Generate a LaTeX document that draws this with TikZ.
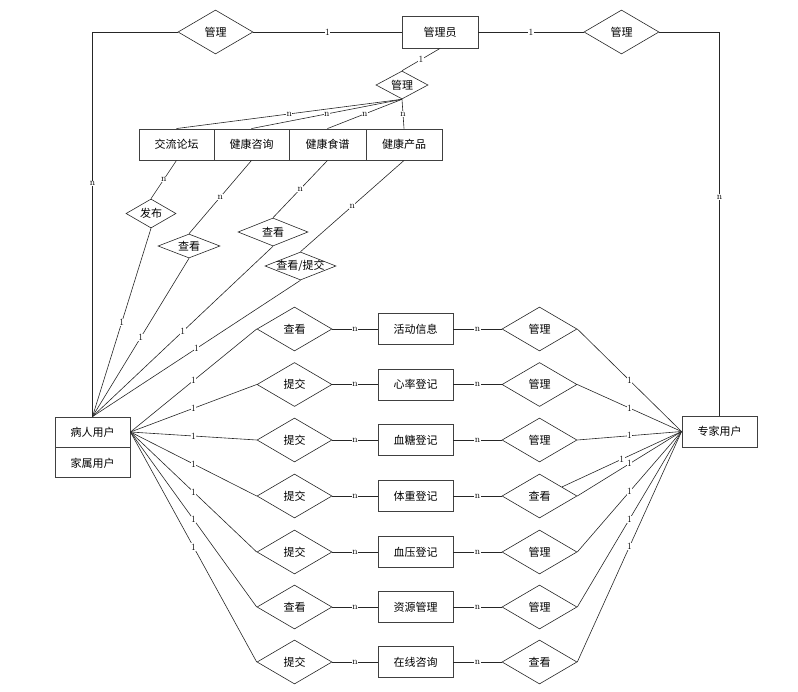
\documentclass[tikz,border=0pt]{standalone}
\usepackage{fontspec}
\newfontfamily\cjk{Noto Sans CJK SC}
\usetikzlibrary{shapes.geometric}
\newcommand\dtxt[1]{\makebox[0pt]{#1}}
\begin{document}
\begin{tikzpicture}[x=1pt,y=-1pt,
  ent/.style={draw=black!75, line width=0.9pt, minimum width=75pt, minimum height=31pt, inner sep=0pt, font=\cjk\fontsize{11}{12}\selectfont},
  rel/.style 2 args={diamond, draw=black!85, line width=0.6pt, minimum width=#1pt, minimum height=#2pt, inner sep=0pt, font=\cjk\fontsize{11}{12}\selectfont},
  ln/.style={draw=black!85, line width=0.6pt},
  card/.style={fill=white, inner sep=0.5pt, font=\fontsize{9.5}{10}\selectfont}
]
\useasboundingbox (0,0) rectangle (798,691);
% top
\node[ent, minimum width=76pt, minimum height=32pt] (admin) at (440,32) {管理员};
\node[rel={75}{44}] (lm) at (215.5,32) {\dtxt{管理}};
\node[rel={75}{44}] (rm) at (621.5,32) {\dtxt{管理}};
\node[rel={52}{28}] (md) at (402,85) {\dtxt{管理}};
\node[ent] (b1) at (176.5,144.5) {交流论坛};
\node[ent] (b2) at (251.5,144.5) {健康咨询};
\node[ent, minimum width=77pt] (b3) at (327.5,144.5) {健康食谱};
\node[ent, minimum width=76pt] (b4) at (404,144.5) {健康产品};
\node[rel={50}{29}] (fb) at (151,213.5) {\dtxt{发布}};
\node[rel={62}{24}] (ck1) at (189,246) {\dtxt{查看}};
\node[rel={70}{28}] (ck2) at (273,232) {\dtxt{查看}};
\node[rel={71}{28}] (cs) at (300.5,266) {\dtxt{查看/提交}};
\node[ent, minimum height=30pt] (pu) at (92.5,432) {病人用户};
\node[ent, minimum height=30pt, anchor=north] (jz) at (pu.south) {家属用户};
\node[ent] (zj) at (719.5,431.5) {专家用户};
% top connectors
\draw[ln] (lm.east) -- node[card]{1} (admin.west);
\draw[ln] (admin.east) -- node[card]{1} (rm.west);
\draw[ln] (lm.west) -| node[card, pos=0.697]{n} (pu.north);
\draw[ln] (rm.east) -| node[card, pos=0.715]{n} (zj.north);
\draw[ln] (admin.south) -- node[card]{1} (md.north);
\foreach \b in {b1,b2,b3,b4} \draw[ln] (md.south) -- node[card]{n} (\b.north);
\draw[ln] (b1.south) -- node[card]{n} (fb.north);
\draw[ln] (b2.south) -- node[card]{n} (ck1.north);
\draw[ln] (b3.south) -- node[card]{n} (ck2.north);
\draw[ln] (b4.south) -- node[card]{n} (cs.north);
\foreach \d in {fb,ck1,ck2,cs} \draw[ln] (\d.south) -- node[card]{1} (pu.north);
% rows
\foreach \i/\y/\a/\e/\c in {1/329/查看/活动信息/管理, 2/384.5/提交/心率登记/管理, 3/440/提交/血糖登记/管理, 4/496/提交/体重登记/查看, 5/552/提交/血压登记/管理, 6/607/查看/资源管理/管理, 7/662/提交/在线咨询/查看}{
  \node[rel={75}{44}] (l\i) at (294.5,\y) {\dtxt{\a}};
  \node[ent] (e\i) at (415.5,\y) {\e};
  \node[rel={75}{44}] (r\i) at (539.5,\y) {\dtxt{\c}};
  \draw[ln] (pu.east) -- node[card]{1} (l\i.west);
  \draw[ln] (l\i.east) -- node[card]{n} (e\i.west);
  \draw[ln] (e\i.east) -- node[card]{n} (r\i.west);
  \draw[ln] (r\i.east) -- node[card]{1} (zj.west);
}
\draw[ln] (r4.22) -- node[card]{1} (zj.west);
\end{tikzpicture}
\end{document}
